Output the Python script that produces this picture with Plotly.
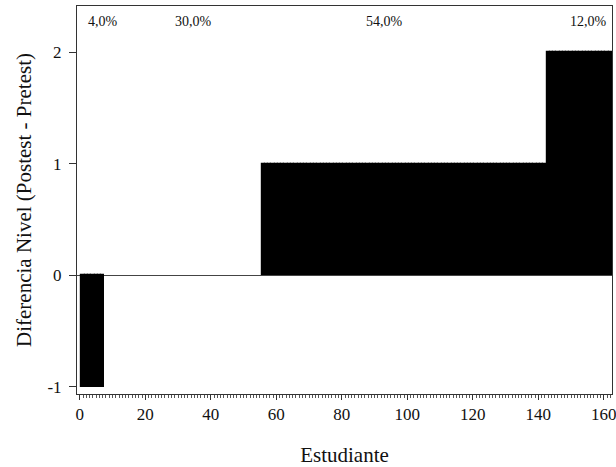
import numpy as np
import plotly.graph_objects as go

# Change in level (postest - pretest) and how many students had each change
diff_levels = [-1, 0, 1, 2]
student_counts = [7, 48, 87, 20]
pct_labels = ["4,0%", "30,0%", "54,0%", "12,0%"]
pct_label_x = [7.0, 34.6, 93.0, 155.2]

x_ticks = [0, 20, 40, 60, 80, 100, 120, 140, 160]
y_ticks = [-1, 0, 1, 2]
y_tick_text = ["-1", "0", "1", "2"]

# One bar per student, sorted by their change in level
diffs = np.repeat(diff_levels, student_counts)
students = np.arange(1, len(diffs) + 1)

# outline only non-empty bars so neighbouring bars merge without seams
edge_widths = np.where(diffs == 0, 0.0, 1.2)

FONT = "Times New Roman, serif"

fig = go.Figure()
fig.add_trace(go.Bar(
    x=students,
    y=diffs,
    width=1,
    marker=dict(color="black", line=dict(width=edge_widths, color="black")),
    showlegend=False,
    hoverinfo="x+y",
))

for txt, xp in zip(pct_labels, pct_label_x):
    fig.add_annotation(
        x=xp, y=0.96, xref="x", yref="paper",
        xanchor="center", yanchor="middle",
        text=txt, showarrow=False,
        font=dict(family=FONT, size=14, color="#111"),
    )

fig.update_layout(
    width=616, height=467,
    margin=dict(l=77, r=4, t=6, b=73),
    paper_bgcolor="white",
    plot_bgcolor="white",
    bargap=0,
    font=dict(family=FONT, color="#111"),
)

fig.update_xaxes(
    range=[-0.85, 162.5],
    automargin=False,
    tickvals=x_ticks,
    ticks="outside", ticklen=5, tickwidth=1, tickcolor="#333",
    minor=dict(dtick=1, tick0=0, ticks="outside", ticklen=3, tickwidth=1, tickcolor="#555"),
    ticklabeloverflow="allow",
    showgrid=False, zeroline=False,
    showline=True, mirror=True, linecolor="#333", linewidth=1,
    tickfont=dict(family=FONT, size=17, color="#111"),
    title=dict(text="Estudiante", font=dict(family=FONT, size=21, color="#111"), standoff=24),
)

fig.update_yaxes(
    range=[-1.063, 2.417],
    automargin=False,
    tickvals=y_ticks, ticktext=y_tick_text,
    ticks="outside", ticklen=7, tickwidth=1, tickcolor="#333",
    ticklabelstandoff=4,
    ticklabeloverflow="allow",
    showgrid=False,
    zeroline=True, zerolinecolor="#444", zerolinewidth=1,
    showline=True, mirror=True, linecolor="#333", linewidth=1,
    tickfont=dict(family=FONT, size=17, color="#111"),
    title=dict(text="Diferencia Nivel (Postest - Pretest)", font=dict(family=FONT, size=21, color="#111"), standoff=10),
)

fig.write_html("out.html")
